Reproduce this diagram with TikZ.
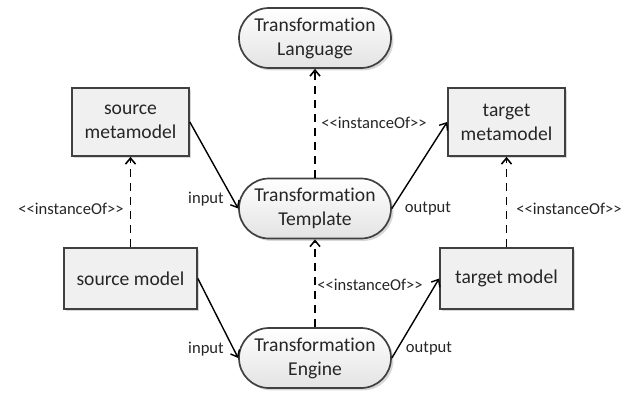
\documentclass[tikz,border=0pt]{standalone}
\usepackage{fontspec}
\setmainfont[Ligatures={NoCommon,NoRequired,NoContextual}]{Carlito}
\usetikzlibrary{arrows.meta,shadows,shapes.misc}
\newcommand{\instof}{<\kern0pt<instanceOf>\kern0pt>}
\begin{document}
\begin{tikzpicture}[x=0.5pt,y=-0.5pt,
  base/.style={draw=black!75, line width=0.85pt, align=center, text=black!85,
    font=\fontsize{9.8}{12}\selectfont, inner sep=1pt,
    top color=white, bottom color=gray!22,
    drop shadow={shadow xshift=1.2pt, shadow yshift=-1.2pt, fill=gray!60, opacity=0.5}},
  pill/.style={base, rounded rectangle, minimum width=78pt, minimum height=30pt},
  box/.style={base, rectangle, middle color=white, top color=gray!12, bottom color=gray!12},
  lbl/.style={font=\fontsize{8.3}{10}\selectfont, text=black!85, inner sep=0pt},
  flow/.style={line width=0.7pt, -{Straight Barb[length=3pt,width=5pt]}},
  inst/.style={line width=0.8pt, dash pattern=on 4pt off 3pt, -{Straight Barb[length=3pt,width=5pt]}}
]
\useasboundingbox (0,0) rectangle (624,397);

\node[pill] (lang) at (315,38) {Transformation\\Language};
\node[pill] (tmpl) at (315,208.5) {Transformation\\Template};
\node[pill] (eng) at (315,358) {Transformation\\Engine};
\node[box, minimum width=58.5pt, minimum height=34pt] (smm) at (130.5,122) {source\\metamodel};
\node[box, minimum width=58.5pt, minimum height=34pt] (tmm) at (506.5,122) {target\\metamodel};
\node[box, minimum width=66.5pt, minimum height=30.5pt] (sm) at (130.5,278.5) {source model};
\node[box, minimum width=66.5pt, minimum height=30.5pt] (tm) at (506.5,278.5) {target model};

\draw[inst] (tmpl.north) -- (lang.south);
\draw[inst] (eng.north) -- (tmpl.south);
\draw[inst] (sm.north) -- (smm.south);
\draw[inst] (tm.north) -- (tmm.south);

\draw[flow] (smm.east) -- (tmpl.west);
\draw[flow] (sm.east) -- (eng.west);
\draw[flow] (tmpl.east) -- (tmm.west);
\draw[flow] (eng.east) -- (tm.west);

\node[lbl, anchor=west] (l1) at (321,123) {\instof};
\node[lbl, anchor=west] (l2) at (317,285) {\instof};
\node[lbl] (l3) at (71,209) {\instof};
\node[lbl] (l4) at (569,209) {\instof};
\node[lbl] (i1) at (206,199) {input};
\node[lbl] (i2) at (206,349) {input};
\node[lbl] (o1) at (428,209) {output};
\node[lbl] (o2) at (429,349) {output};
\end{tikzpicture}
\end{document}
